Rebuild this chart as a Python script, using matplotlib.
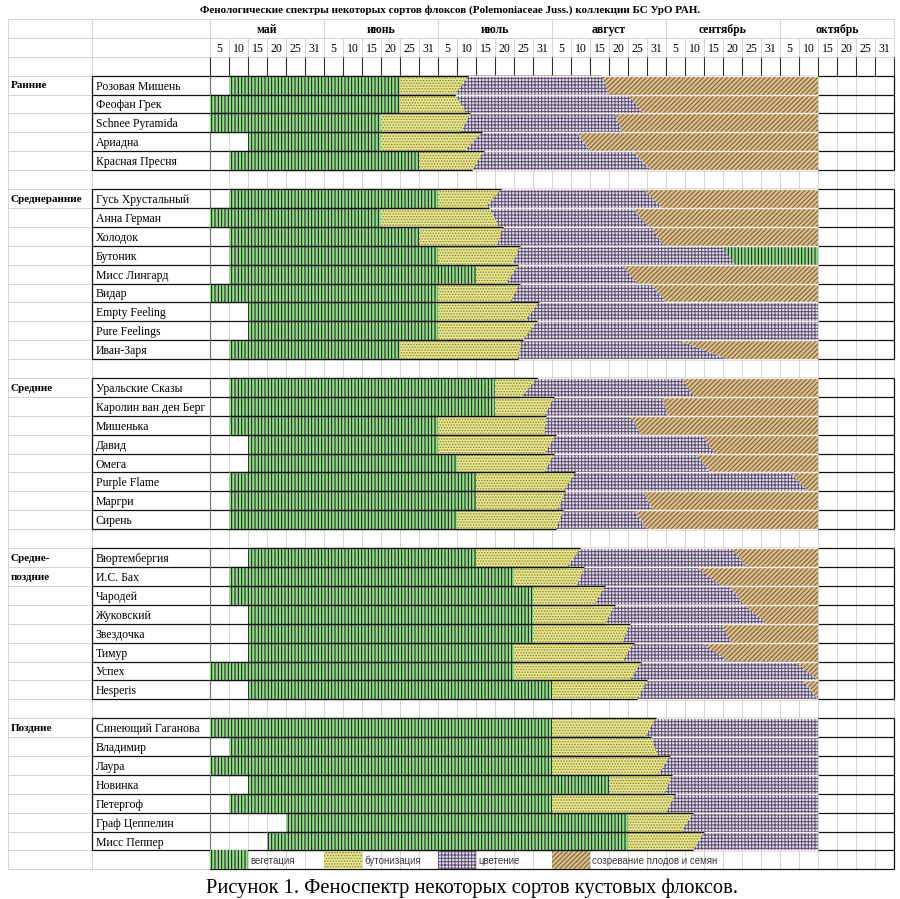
import matplotlib
matplotlib.use('Agg')
import matplotlib.pyplot as plt
from matplotlib.patches import Polygon

plt.rcParams['hatch.linewidth'] = 0.7
SERIF = ['Liberation Serif', 'DejaVu Serif']
SANS = ['Liberation Sans', 'DejaVu Sans']

title = 'Фенологические спектры некоторых сортов флоксов (Polemoniaceae Juss.) коллекции БС УрО РАН.'
caption = 'Рисунок 1. Феноспектр некоторых сортов кустовых флоксов.'

months = ['май', 'июнь', 'июль', 'август', 'сентябрь', 'октябрь']
days = ['5', '10', '15', '20', '25', '31']

groups = ['Ранние', 'Среднеранние', 'Средние', 'Средне-\nпоздние', 'Поздние']
group_sizes = [5, 9, 8, 8, 7]

varieties = [
    'Розовая Мишень', 'Феофан Грек', 'Schnee Pyramida', 'Ариадна', 'Красная Пресня',
    'Гусь Хрустальный', 'Анна Герман', 'Холодок', 'Бутоник', 'Мисс Лингард', 'Видар',
    'Empty Feeling', 'Pure Feelings', 'Иван-Заря',
    'Уральские Сказы', 'Каролин ван ден Берг', 'Мишенька', 'Давид', 'Омега',
    'Purple Flame', 'Маргри', 'Сирень',
    'Вюртембергия', 'И.С. Бах', 'Чародей', 'Жуковский', 'Звездочка', 'Тимур',
    'Успех', 'Hesperis',
    'Синеющий Гаганова', 'Владимир', 'Лаура', 'Новинка', 'Петергоф',
    'Граф Цеппелин', 'Мисс Пеппер',
]

# phase boundaries in 5-day periods counted from 1 May
veg_start = [1, 0, 0, 2, 1,
             1, 0, 1, 1, 1, 0, 2, 2, 1,
             1, 1, 1, 2, 2, 1, 1, 1,
             2, 1, 1, 2, 2, 2, 0, 2,
             0, 1, 0, 2, 1, 4, 3]
bud_start = [10, 10, 9, 9, 11,
             12, 9, 11, 12, 14, 12, 12, 12, 10,
             15, 15, 12, 12, 13, 14, 14, 13,
             14, 16, 17, 17, 17, 16, 16, 18,
             18, 18, 18, 21, 18, 22, 22]
flow_start_top = [13.6, 12.9, 13.7, 14.3, 14.4,
                  15.3, 14.7, 15.4, 16.3, 16.2, 16.3, 17.3, 17.2, 16.4,
                  17.2, 18.1, 17.7, 18.2, 18.1, 19.2, 18.7, 18.6,
                  19.5, 19.7, 20.8, 21.3, 22.1, 22.3, 22.7, 23.0,
                  23.5, 23.2, 24.2, 24.3, 24.5, 25.4, 26.0]
flow_start_bot = [12.9, 13.5, 13.2, 13.4, 13.8,
                  14.5, 15.2, 15.1, 15.9, 15.6, 15.8, 16.6, 16.5, 16.2,
                  16.4, 17.6, 17.6, 17.6, 17.6, 18.6, 18.3, 18.2,
                  18.8, 19.3, 20.2, 20.8, 21.7, 21.7, 22.1, 22.5,
                  22.9, 23.6, 23.6, 23.9, 24.0, 24.8, 25.4]
late_start_top = [20.6, 22.0, 21.3, 19.3, 22.2,
                  22.8, 22.2, 23.2, 26.9, 21.7, 23.2, 32, 32, 24.7,
                  24.8, 23.8, 22.1, 25.9, 25.6, 30.5, 22.8, 22.3,
                  27.5, 25.6, 27.3, 28.1, 26.9, 25.9, 30.8, 31.2,
                  32, 32, 32, 32, 32, 32, 32]
late_start_bot = [21.0, 22.8, 21.7, 20.0, 23.2,
                  23.8, 23.1, 23.9, 27.7, 22.5, 24.0, 32, 32, 27.2,
                  25.5, 24.1, 22.7, 26.6, 26.3, 31.5, 23.3, 23.0,
                  28.2, 26.9, 28.1, 29.3, 27.5, 27.3, 32, 32,
                  32, 32, 32, 32, 32, 32, 32]
late_phase = ['seed'] * 37
late_phase[8] = 'veg'   # Бутоник: vegetation again
season_end = 32

legend_labels = ['вегетация', 'бутонизация', 'цветение', 'созревание плодов и семян']
legend_phases = ['veg', 'bud', 'flow', 'seed']

style = {
    'veg': ('#90dc88', '#141414', '|||||'),
    'bud': ('#e8e690', '#85832e', '......'),
    'flow': ('#e2dbec', '#5a4c6c', '+++++'),
    'seed': ('#d8bd8c', '#7a5a30', '///////'),
}

# sheet geometry (column units = 19 px, row units = 18.9 px)
N_COLS = 36
GROUP_X = -202 / 19
NAME_X = -118 / 19

fig = plt.figure(figsize=(9, 8.99), dpi=100)
ax = fig.add_axes([0, 0, 1, 1])
ax.set_xlim(-210 / 19, 690 / 19)
ax.set_ylim(899 / 18.9, 0)
ax.axis('off')


def phase_poly(xy, phase, z=2):
    fc, hc, hatch = style[phase]
    ax.add_patch(Polygon(xy, closed=True, facecolor=fc, edgecolor=hc,
                         hatch=hatch, linewidth=0, zorder=z))


# rows
rows = []
group_row = []
r = 4
for n in group_sizes:
    group_row.append(r)
    rows += list(range(r, r + n))
    r += n + 1
legend_row = r - 1
last_row = legend_row + 1

light = '#d4d4d4'
# light sheet grid
ax.hlines(range(1, last_row + 1), GROUP_X, N_COLS, color=light, lw=0.7, zorder=0.5)
ax.vlines([GROUP_X, NAME_X, 0], 1, last_row, color=light, lw=0.7, zorder=0.5)
ax.vlines(range(0, N_COLS + 1, 6), 1, 2, color=light, lw=0.7, zorder=0.5)
ax.vlines(range(0, N_COLS + 1), 2, last_row, color=light, lw=0.7, zorder=0.5)
ax.vlines(range(0, N_COLS + 1), 3, 4, color='#303030', lw=0.8, zorder=0.6)

# header text
ax.text(12.63, 0.55, title, ha='center', va='center', fontsize=8,
        fontweight='bold', family=SERIF)
for m, name in enumerate(months):
    ax.text(6 * m + 3, 1.6, name, ha='center', va='center', fontsize=8.5,
            fontweight='bold', family=SERIF)
    for d, lab in enumerate(days):
        ax.text(6 * m + d + 0.5, 2.6, lab, ha='center', va='center',
                fontsize=8.5, family=SERIF)

# group borders and labels
for g, (gr, n) in enumerate(zip(group_row, group_sizes)):
    ax.hlines(range(gr, gr + n + 1), NAME_X, N_COLS, color='#111111', lw=0.9, zorder=1)
    ax.vlines([NAME_X, N_COLS], gr, gr + n, color='#111111', lw=0.9, zorder=1)
    ax.vlines(0, gr, gr + n, color='#777777', lw=0.9, zorder=1)
    for k, part in enumerate(groups[g].split('\n')):
        ax.text(GROUP_X + 0.15, gr + k + 0.55, part, ha='left', va='center',
                fontsize=8, fontweight='bold', family=SERIF)

# phase bands
for i, name in enumerate(varieties):
    y0 = rows[i]
    y1 = y0 + 1
    ax.text(NAME_X + 0.2, y0 + 0.58, name, ha='left', va='center',
            fontsize=8.5, family=SERIF)
    v0, v1 = veg_start[i], bud_start[i]
    ft, fb = flow_start_top[i], flow_start_bot[i]
    lt, lb = late_start_top[i], late_start_bot[i]
    phase_poly([(v0, y0), (v1, y0), (v1, y1), (v0, y1)], 'veg')
    phase_poly([(v1, y0), (ft, y0), (fb, y1), (v1, y1)], 'bud')
    phase_poly([(ft, y0), (lt, y0), (lb, y1), (fb, y1)], 'flow')
    if lt < season_end or lb < season_end:
        phase_poly([(lt, y0), (season_end, y0), (season_end, y1), (lb, y1)],
                   late_phase[i])
    # row separators: pale over flowering/ripening, black over green/buds
    ax.hlines([y0, y1], [ft, fb], season_end, color='#f3eee4', lw=0.9, zorder=3)
    ax.hlines([y0, y1], v0, [ft, fb], color='#111111', lw=0.9, zorder=3.1)

# legend row
ax.hlines(last_row, 0, N_COLS, color='#111111', lw=0.9, zorder=1)
ax.vlines([0, N_COLS], legend_row, last_row, color='#111111', lw=0.9, zorder=1)
for k, (lab, ph) in enumerate(zip(legend_labels, legend_phases)):
    x0 = 6 * k
    phase_poly([(x0, legend_row), (x0 + 2, legend_row), (x0 + 2, last_row),
                (x0, last_row)], ph)
    ax.text(x0 + 2.1, legend_row + 0.55, lab, ha='left', va='center',
            fontsize=7, color='#3a3a3a', family=SANS)

ax.text(13.8, 46.98, caption, ha='center', va='center', fontsize=14.8,
        family=SERIF)

fig.savefig('out.png', dpi=100)
